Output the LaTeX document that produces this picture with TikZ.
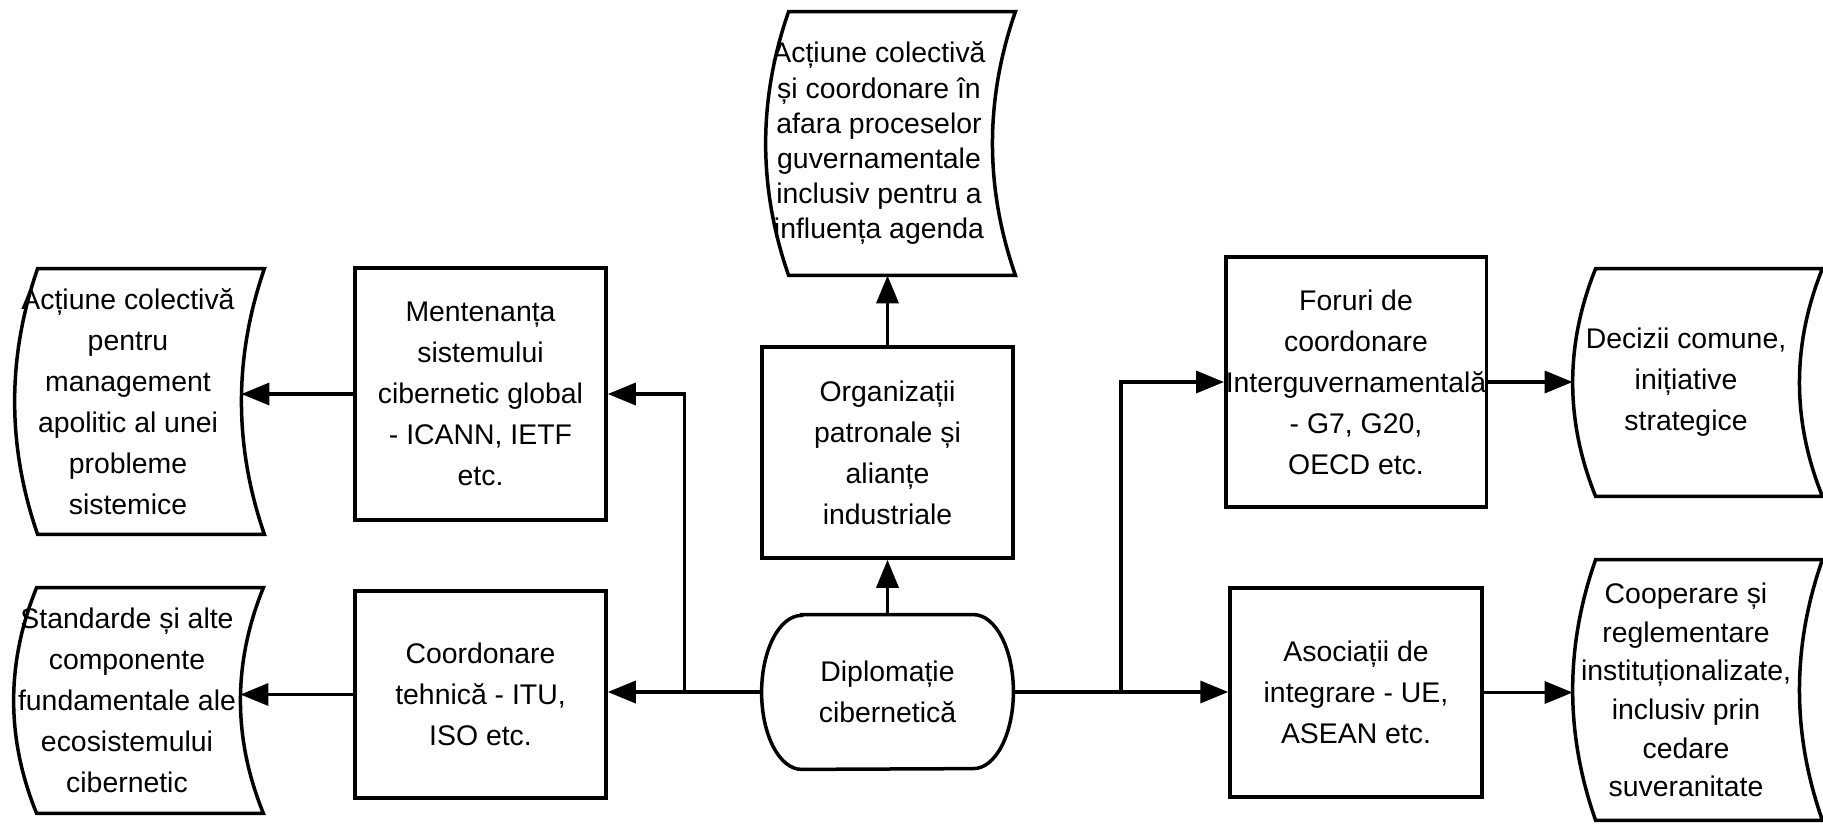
\documentclass[tikz,border=0pt]{standalone}
\usepackage{fontspec}
\setmainfont{Liberation Sans}
\usetikzlibrary{arrows.meta,calc}

% kontur: lagrede data (buet venstre og høyre side)
\newcommand{\lagerkontur}[1]{%
  \draw[kant] ([xshift=11.5pt]#1.north west) -- ([xshift=11.5pt]#1.north east)
    .. controls ($(#1.north east)!1/3!(#1.south east)+(-3.8pt,0)$) and ($(#1.north east)!2/3!(#1.south east)+(-3.8pt,0)$) .. ([xshift=11.5pt]#1.south east)
    -- ([xshift=11.5pt]#1.south west)
    .. controls ($(#1.south west)!1/3!(#1.north west)+(-3.8pt,0)$) and ($(#1.south west)!2/3!(#1.north west)+(-3.8pt,0)$) .. ([xshift=11.5pt]#1.north west)
    -- cycle;}

\begin{document}
\begin{tikzpicture}[x=0.5pt,y=-0.5pt,
		kant/.style={line width=1.75pt},
		tekst/.style={inner sep=0pt,align=center,font=\fontsize{14.2pt}{20.5pt}\selectfont},
		boks/.style={tekst,draw,kant,minimum width=125.5pt},
		lager/.style={tekst,minimum width=113pt},
		pil/.style={kant,-{Triangle[length=14pt,width=11pt]}}]
	\useasboundingbox (0,0) rectangle (1823,824);
	% Midten
	\node[tekst,minimum width=125.5pt,minimum height=77pt] (diplo) at (887.5,692) {Diplomație\\cibernetică};
	\draw[kant] ([xshift=20pt]diplo.north west) -- ([xshift=-20pt]diplo.north east)
		arc[start angle=90,end angle=-90,x radius=20pt,y radius=38.5pt]
		-- ([xshift=20pt]diplo.south west)
		arc[start angle=270,end angle=90,x radius=20pt,y radius=38.5pt] -- cycle;
	\node[boks,minimum height=105.5pt] (org) at (887.5,452.5) {Organizații\\patronale și\\alianțe\\industriale};
	\node[lager,minimum height=131.5pt,font=\fontsize{14.2pt}{17.6pt}\selectfont] (actiune) at (879,143.5) {Acțiune colectivă\\și coordonare în\\afara proceselor\\guvernamentale\\inclusiv pentru a\\influența agenda};
	\lagerkontur{actiune}
	% Venstre side
	\node[boks,minimum height=126pt] (ment) at (480.5,394) {Mentenanța\\sistemului\\cibernetic global\\- ICANN, IETF\\etc.};
	\node[boks,minimum height=103.5pt] (coord) at (480.5,694.5) {Coordonare\\tehnică - ITU,\\ISO etc.};
	\node[lager,minimum height=132.5pt] (mgmt) at (128,401.5) {Acțiune colectivă\\pentru\\management\\apolitic al unei\\probleme\\sistemice};
	\lagerkontur{mgmt}
	\node[lager,minimum height=112.5pt] (std) at (127,700.5) {Standarde și alte\\componente\\fundamentale ale\\ecosistemului\\cibernetic};
	\lagerkontur{std}
	% Høyre side
	\node[boks,minimum width=126pt,minimum height=125pt] (foruri) at (1356,382) {Foruri de\\coordonare\\Interguvernamentală\\- G7, G20,\\OECD etc.};
	\node[boks,minimum width=126pt,minimum height=104.5pt] (asoc) at (1356,692.5) {Asociații de\\integrare - UE,\\ASEAN etc.};
	\node[lager,minimum height=113.5pt] (decizii) at (1686,382.5) {Decizii comune,\\inițiative\\strategice};
	\lagerkontur{decizii}
	\node[lager,minimum height=130pt,font=\fontsize{14.2pt}{19.3pt}\selectfont] (coop) at (1686,690) {Cooperare și\\reglementare\\instituționalizate,\\inclusiv prin\\cedare\\suveranitate};
	\lagerkontur{coop}
	% Piler
	\draw[pil] (diplo.north) -- (org.south);
	\draw[pil] (org.north) -- (org.north |- actiune.south);
	\draw[pil] (diplo.west) -- (diplo.west -| coord.east);
	\draw[pil] ($(coord.east)!0.5!(diplo.west)$) |- (ment.east);
	\draw[pil] (ment.west) -- (ment.west -| mgmt.east);
	\draw[pil] (coord.west) -- (coord.west -| std.east);
	\draw[pil] (diplo.east) -- (diplo.east -| asoc.west);
	\draw[pil] ($(diplo.east)!0.5!(asoc.west)$) |- (foruri.west);
	\draw[pil] (foruri.east) -- (foruri.east -| decizii.west);
	\draw[pil] (asoc.east) -- (asoc.east -| coop.west);
\end{tikzpicture}
\end{document}
